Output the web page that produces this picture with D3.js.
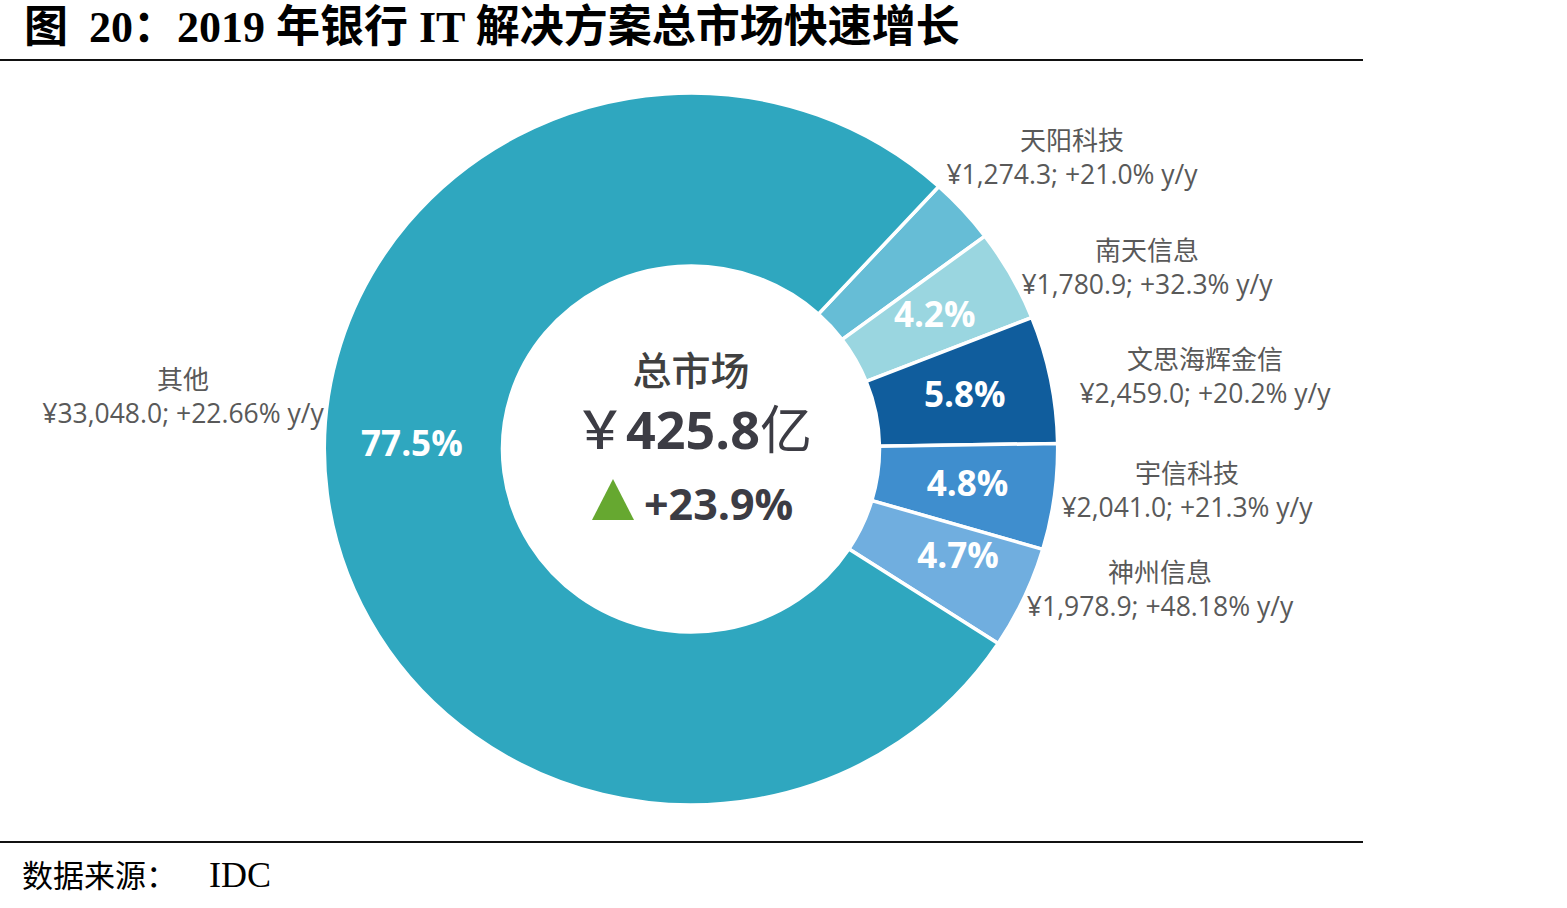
<!DOCTYPE html>
<html>
<head>
<meta charset="utf-8">
<script src="https://cdn.jsdelivr.net/npm/d3@7"></script>
<style>
  html, body { margin: 0; padding: 0; background: #fff; }
  svg { display: block; }
</style>
</head>
<body>
<div id="chart"></div>
<script>
// 2019 bank IT solutions market — donut

const NAMES  = ["天阳科技", "南天信息", "文思海辉金信", "宇信科技", "神州信息", "其他"];
const VALUES = [1274.3, 1780.9, 2459.0, 2041.0, 1978.9, 33048.0];
const GROWTH = ["+21.0%", "+32.3%", "+20.2%", "+21.3%", "+48.18%", "+22.66%"];
const SHARE  = ["3.0%", "4.2%", "5.8%", "4.8%", "4.7%", "77.5%"];
const SHOW_SHARE = [false, true, true, true, true, true];
const COLORS = ["#66bdd6", "#9ad6e0", "#105d9d", "#3f8ece", "#70aedf", "#2fa7bf"];

const TOTAL_LABEL = "￥425.8亿";
const TOTAL_GROWTH = "+23.9%";

// layout of the outside labels (centre of the two-line block)
const LABEL_POS = [
  [1072, 150], [1147, 260], [1205, 369], [1187, 483], [1160, 582], [183, 389]
];

const W = 1567, H = 908;
const cx = 691, cy = 449;
const rOuter = 356, rInner = 183;
const sx = 1.03; // picture is a touch wider than tall

const svg = d3.select("#chart").append("svg")
  .attr("width", W)
  .attr("height", H);

// Title
const title = svg.append("text")
  .attr("x", 24)
  .attr("y", 42)
  .attr("font-family", "'Liberation Serif', 'Noto Sans CJK SC', serif")
  .attr("font-weight", 700)
  .attr("font-size", 44)
  .attr("fill", "#000");
title.append("tspan").text("图 ");
title.append("tspan").attr("dx", 10).text("20：2019 年银行 IT 解决方案总市场快速增长");

svg.append("line")
  .attr("x1", 0).attr("x2", 1363)
  .attr("y1", 60).attr("y2", 60)
  .attr("stroke", "#111")
  .attr("stroke-width", 2);

svg.append("line")
  .attr("x1", 0).attr("x2", 1363)
  .attr("y1", 842).attr("y2", 842)
  .attr("stroke", "#111")
  .attr("stroke-width", 2);

const src = svg.append("text")
  .attr("x", 22)
  .attr("y", 887)
  .attr("font-family", "'Liberation Serif', 'Noto Sans CJK SC', serif")
  .attr("font-size", 31)
  .attr("fill", "#000");
src.append("tspan").text("数据来源：");
src.append("tspan").attr("dx", 32).attr("font-size", 36).text("IDC");

// Donut
const data = NAMES.map((n, i) => ({
  name: n, value: VALUES[i], growth: GROWTH[i], share: SHARE[i],
  show: SHOW_SHARE[i], color: COLORS[i], pos: LABEL_POS[i]
}));

const start = 42.5 * Math.PI / 180;
const pie = d3.pie()
  .sort(null)
  .value(d => d.value)
  .startAngle(start)
  .endAngle(start + 2 * Math.PI);

const arcs = pie(data);

const arc = d3.arc()
  .innerRadius(rInner)
  .outerRadius(rOuter);

const g = svg.append("g")
  .attr("transform", `translate(${cx},${cy}) scale(${sx},1)`);

g.selectAll("path")
  .data(arcs)
  .enter()
  .append("path")
  .attr("d", arc)
  .attr("fill", d => d.data.color)
  .attr("stroke", "#fff")
  .attr("stroke-width", 3.5)
  .attr("vector-effect", "non-scaling-stroke");

// Share labels inside the ring
const labelR = rInner + 88;

function labelAnchor(d) {
  let a = (d.startAngle + d.endAngle) / 2, r = labelR;
  // the big slice keeps its label on the left, level with the centre
  if (d.data.name === "其他") a = 4.725;
  if (d.data.name === "神州信息") { a -= 0.035; r += 10; }
  return [Math.sin(a) * r * sx + cx, -Math.cos(a) * r + cy];
}

svg.selectAll(".share")
  .data(arcs.filter(d => d.data.show))
  .enter()
  .append("text")
  .attr("class", "share")
  .attr("x", d => labelAnchor(d)[0])
  .attr("y", d => labelAnchor(d)[1] - 2)
  .attr("dy", "0.36em")
  .attr("text-anchor", "middle")
  .attr("font-family", "'Open Sans', 'Noto Sans', sans-serif")
  .attr("font-weight", 700)
  .attr("font-size", 35)
  .attr("fill", "#fff")
  .text(d => d.data.share);

// Outside labels
const outside = svg.selectAll(".outside")
  .data(data)
  .enter()
  .append("g")
  .attr("class", "outside")
  .attr("transform", d => `translate(${d.pos[0]},${d.pos[1]})`);

outside.append("text")
  .attr("text-anchor", "middle")
  .attr("font-family", "'Noto Sans CJK SC', sans-serif")
  .attr("font-size", 26)
  .attr("fill", "#595959")
  .text(d => d.name);

outside.append("text")
  .attr("y", 34)
  .attr("text-anchor", "middle")
  .attr("font-family", "'Open Sans', 'Noto Sans', sans-serif")
  .attr("font-size", 26.5)
  .attr("fill", "#595959")
  .text(d => `¥${d3.format(",.1f")(d.value)}; ${d.growth} y/y`);

// Centre text
svg.append("text")
  .attr("x", cx)
  .attr("y", 385)
  .attr("text-anchor", "middle")
  .attr("font-family", "'Noto Sans CJK SC', sans-serif")
  .attr("font-size", 39)
  .attr("font-weight", 500)
  .attr("fill", "#404040")
  .text("总市场");

const tot = svg.append("text")
  .attr("x", cx + 2)
  .attr("y", 449)
  .attr("text-anchor", "middle")
  .attr("font-family", "'Open Sans', 'Noto Sans CJK SC', sans-serif")
  .attr("font-size", 52)
  .attr("fill", "#3c3c44");
tot.append("tspan").attr("font-family", "'Noto Sans CJK SC', sans-serif").attr("font-weight", 500).text(TOTAL_LABEL.slice(0, 1));
tot.append("tspan").attr("font-weight", 700).text(TOTAL_LABEL.slice(1, -1));
tot.append("tspan").attr("font-family", "'Noto Sans CJK SC', sans-serif").attr("font-weight", 400).text(TOTAL_LABEL.slice(-1));

// growth triangle
const tri = d3.path();
tri.moveTo(592, 520);
tri.lineTo(613, 479);
tri.lineTo(634, 520);
tri.closePath();
svg.append("path")
  .attr("d", tri.toString())
  .attr("fill", "#66a830");

svg.append("text")
  .attr("x", 644)
  .attr("y", 520)
  .attr("text-anchor", "start")
  .attr("font-family", "'Open Sans', 'Noto Sans', sans-serif")
  .attr("font-weight", 700)
  .attr("font-size", 43)
  .attr("fill", "#3c3c44")
  .text(TOTAL_GROWTH);
</script>
</body>
</html>
